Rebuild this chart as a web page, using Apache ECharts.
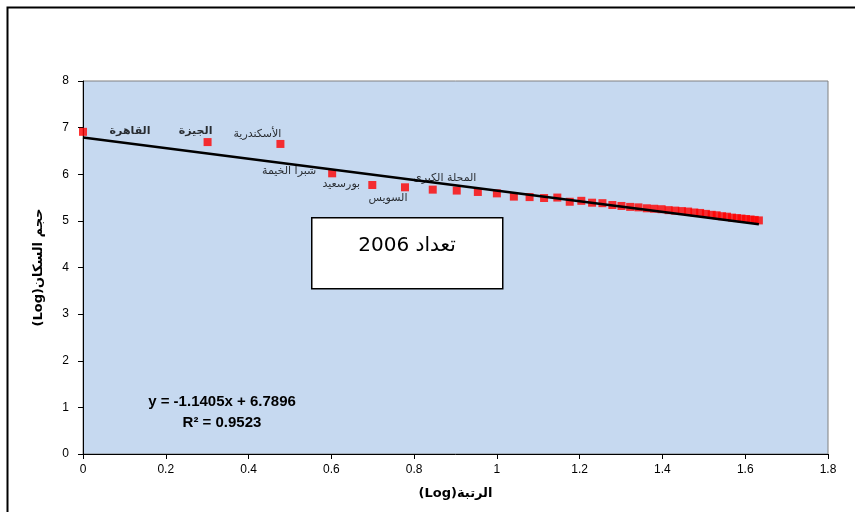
<!DOCTYPE html>
<html><head><meta charset="utf-8">
<script src="https://cdn.jsdelivr.net/npm/echarts@6/dist/echarts.min.js"></script>
<style>html,body{margin:0;padding:0;background:#fff}#c{width:855px;height:512px}</style>
</head><body><div id="c"></div>
<script>
// log10(rank)
const logRank = [0, 0.301, 0.477, 0.602, 0.699, 0.778, 0.845, 0.903, 0.954, 1.0,
  1.041, 1.079, 1.114, 1.146, 1.176, 1.204, 1.230, 1.255, 1.279, 1.301,
  1.322, 1.342, 1.362, 1.380, 1.398, 1.415, 1.431, 1.447, 1.462, 1.477,
  1.491, 1.505, 1.519, 1.531, 1.544, 1.556, 1.568, 1.580, 1.591, 1.602,
  1.613, 1.623, 1.633];
// log10(population)
const logPop = [6.91, 6.69, 6.65, 6.02, 5.77, 5.72, 5.67, 5.65, 5.62, 5.59,
  5.52, 5.51, 5.49, 5.50, 5.41, 5.43, 5.39, 5.38, 5.34, 5.32,
  5.30, 5.29, 5.27, 5.26, 5.25, 5.23, 5.22, 5.21, 5.20, 5.18,
  5.17, 5.15, 5.13, 5.12, 5.10, 5.09, 5.07, 5.06, 5.05, 5.04,
  5.03, 5.02, 5.01];
const cityNames = ['القاهرة', 'الجيزة', 'الأسكندرية', 'شبرا الخيمة', 'بورسعيد', 'السويس', 'المحلة الكبرى'];
const trendX = [0, 1.633];
const trendY = [6.7896, 4.927];
const xTicks = [0, 0.2, 0.4, 0.6, 0.8, 1, 1.2, 1.4, 1.6, 1.8];

const labelOffsets = [[47, -1], [-12, -11], [-23, -10], [-43, -2], [-31, -1], [-17, 11], [12, -11]];
const labelBold = [true, true, false, false, false, false, false];

const pts = logRank.map((x, i) => {
  const d = { value: [x, logPop[i]] };
  if (i < cityNames.length) {
    d.name = cityNames[i];
    d.label = {
      show: true, formatter: cityNames[i], position: 'inside', offset: labelOffsets[i],
      color: '#000', fontSize: 11, fontWeight: labelBold[i] ? 'bold' : 'normal',
      fontFamily: 'DejaVu Sans', align: 'center', verticalAlign: 'middle'
    };
  }
  return d;
});

const chart = echarts.init(document.getElementById('c'), null, { renderer: 'canvas' });
chart.setOption({
  animation: false,
  grid: { left: 83, right: 27, top: 81, bottom: 58, show: true, backgroundColor: '#C6D9F0', borderColor: '#808080', borderWidth: 1 },
  xAxis: {
    type: 'value', min: 0, max: 1.8, interval: 0.2,
    name: '(Log)الرتبة', nameLocation: 'middle', nameGap: 33,
    nameTextStyle: { fontSize: 13, fontWeight: 'bold', color: '#000', fontFamily: 'DejaVu Sans' },
    axisLine: { show: true, lineStyle: { color: '#000', width: 1 } },
    axisTick: { show: true, length: 5, lineStyle: { color: '#000' } },
    axisLabel: { color: '#000', fontSize: 12, fontFamily: 'Liberation Sans', margin: 10,
      formatter: v => String(+v.toFixed(1)) },
    splitLine: { show: false }
  },
  yAxis: {
    type: 'value', min: 0, max: 8, interval: 1,
    name: '(Log)حجم السكان', nameLocation: 'middle', nameGap: 38, nameRotate: 90,
    nameTextStyle: { fontSize: 13, fontWeight: 'bold', color: '#000', fontFamily: 'DejaVu Sans' },
    axisLine: { show: true, lineStyle: { color: '#000', width: 1 } },
    axisTick: { show: true, length: 5, lineStyle: { color: '#000' } },
    axisLabel: { color: '#000', fontSize: 12, fontFamily: 'Liberation Sans', margin: 14 },
    splitLine: { show: false }
  },
  series: [
    {
      type: 'scatter', symbol: 'rect', symbolSize: 8, itemStyle: { color: '#FF0000' },
      data: pts, z: 3
    },
    {
      type: 'line', data: trendX.map((x, i) => [x, trendY[i]]), symbol: 'none',
      lineStyle: { color: '#000', width: 2.5 }, z: 4, silent: true
    }
  ],
  graphic: [
    { type: 'rect', left: 5, top: 5, shape: { width: 900, height: 600 }, style: { fill: 'none', stroke: '#000', lineWidth: 2 }, silent: true },
    { type: 'rect', left: 311, top: 217, shape: { width: 191, height: 71 }, style: { fill: '#fff', stroke: '#000', lineWidth: 1.5 }, z: 10 },
    { type: 'text', x: 407, y: 246, style: { text: 'تعداد 2006', fill: '#000', font: '20px "DejaVu Sans"', textAlign: 'center', textVerticalAlign: 'middle' }, z: 11 },
    { type: 'text', x: 222, y: 402, style: { text: 'y = -1.1405x + 6.7896', fill: '#000', font: 'bold 15px "Liberation Sans"', textAlign: 'center', textVerticalAlign: 'middle' }, z: 11 },
    { type: 'text', x: 222, y: 423, style: { text: 'R² = 0.9523', fill: '#000', font: 'bold 15px "Liberation Sans"', textAlign: 'center', textVerticalAlign: 'middle' }, z: 11 }
  ]
});
</script></body></html>
